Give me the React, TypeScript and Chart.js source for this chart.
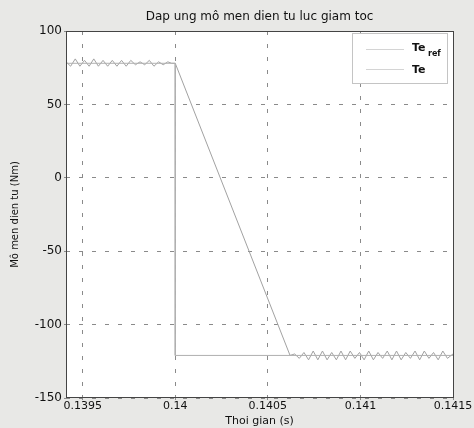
import React, { useEffect, useRef } from "react";
import { Chart, registerables } from "chart.js";
Chart.register(...registerables);

const chartTitle = "Dap ung mô men dien tu luc giam toc";
const xTitle = "Thoi gian (s)";
const yTitle = "Mô men dien tu (Nm)";
const xTicks = [0.1395, 0.14, 0.1405, 0.141, 0.1415];
const xTickLabels = ["0.1395", "0.14", "0.1405", "0.141", "0.1415"];
const yTicks = [-150, -100, -50, 0, 50, 100];

const teRefTime = [0.13941, 0.14, 0.14, 0.1415];
const teRefValue = [78, 78, -121, -121];

const teTime = [
  0.13941, 0.139435, 0.13946, 0.139485, 0.13951, 0.139535, 0.13956, 0.139585, 0.13961, 0.139635,
  0.13966, 0.139685, 0.13971, 0.139735, 0.13976, 0.139785, 0.13981, 0.139835, 0.13986, 0.139885,
  0.13991, 0.139935, 0.13996, 0.13998, 0.14,
  0.14062,
  0.140645, 0.14067, 0.140695, 0.14072, 0.140745, 0.14077, 0.140795, 0.14082, 0.140845, 0.14087,
  0.140895, 0.14092, 0.140945, 0.14097, 0.140995, 0.14102, 0.141045, 0.14107, 0.141095, 0.14112,
  0.141145, 0.14117, 0.141195, 0.14122, 0.141245, 0.14127, 0.141295, 0.14132, 0.141345, 0.14137,
  0.141395, 0.14142, 0.141445, 0.14147, 0.1415,
];
const teValue = [
  79, 76, 81, 76, 80, 76, 81, 76, 80, 76,
  80, 76, 80, 76, 80, 77, 79, 77, 80, 76,
  79, 77, 79, 78, 78,
  -121,
  -120, -123, -119, -124, -118, -124, -118, -124, -119, -124,
  -118, -124, -118, -123, -119, -124, -118, -124, -119, -123,
  -118, -124, -118, -124, -119, -123, -118, -124, -118, -123,
  -119, -124, -118, -123, -120,
];

const FONT = "'DejaVu Sans', sans-serif";
const GRID = "#8a8a8a";

const framePlugin = {
  id: "frame",
  beforeDraw(chart: any) {
    const { ctx, chartArea: a, width, height } = chart;
    ctx.save();
    ctx.fillStyle = "#e8e8e6";
    ctx.fillRect(0, 0, width, height);
    ctx.fillStyle = "#ffffff";
    ctx.fillRect(a.left, a.top, a.right - a.left, a.bottom - a.top);
    ctx.restore();
  },
  afterDraw(chart: any) {
    const { ctx, chartArea: a } = chart;
    ctx.save();
    ctx.strokeStyle = "#444";
    ctx.lineWidth = 1;
    ctx.strokeRect(a.left + 0.5, a.top + 0.5, a.right - a.left, a.bottom - a.top - 1);
    // title
    ctx.fillStyle = "#111";
    ctx.font = `12px ${FONT}`;
    ctx.textAlign = "center";
    ctx.textBaseline = "middle";
    ctx.fillText(chartTitle, (a.left + a.right) / 2, 17);
    // legend
    const lx = a.right - 101, ly = a.top + 2, lw = 95, lh = 50;
    ctx.fillStyle = "#fff";
    ctx.fillRect(lx, ly, lw, lh);
    ctx.strokeStyle = "#c4c4c4";
    ctx.strokeRect(lx + 0.5, ly + 0.5, lw, lh);
    ctx.strokeStyle = "#d4d4d4";
    ctx.beginPath();
    ctx.moveTo(lx + 14, ly + 16.5);
    ctx.lineTo(lx + 52, ly + 16.5);
    ctx.moveTo(lx + 14, ly + 36.5);
    ctx.lineTo(lx + 52, ly + 36.5);
    ctx.stroke();
    ctx.fillStyle = "#111";
    ctx.textAlign = "left";
    ctx.textBaseline = "alphabetic";
    ctx.font = `bold 11px ${FONT}`;
    ctx.fillText("Te", lx + 60, ly + 18);
    ctx.font = `bold 8px ${FONT}`;
    ctx.fillText("ref", lx + 76, ly + 23);
    ctx.font = `bold 11px ${FONT}`;
    ctx.fillText("Te", lx + 60, ly + 40);
    ctx.restore();
  },
};

export default function App() {
  const ref = useRef<HTMLCanvasElement>(null);
  useEffect(() => {
    const ctx = ref.current!;
    const chart = new Chart(ctx, {
      type: "line",
      data: {
        datasets: [
          {
            label: "Te_ref",
            data: teRefTime.map((t, i) => ({ x: t, y: teRefValue[i] })),
            borderColor: "#b0b0b0",
            borderWidth: 1,
            pointRadius: 0,
            tension: 0,
          },
          {
            label: "Te",
            data: teTime.map((t, i) => ({ x: t, y: teValue[i] })),
            borderColor: "#a2a2a2",
            borderWidth: 1,
            pointRadius: 0,
            tension: 0,
          },
        ],
      },
      options: {
        animation: false,
        responsive: false,
        layout: { padding: { top: 31, right: 21, left: 0, bottom: 0 } },
        plugins: { legend: { display: false }, title: { display: false }, tooltip: { enabled: false } },
        scales: {
          x: {
            type: "linear",
            min: 0.13941,
            max: 0.1415,
            afterBuildTicks: (s: any) => {
              s.ticks = xTicks.map((v) => ({ value: v }));
            },
            afterFit: (s: any) => {
              s.height = 30;
              s.paddingLeft = 0;
              s.paddingRight = 0;
            },
            ticks: {
              callback: (v: any) => {
                const i = xTicks.findIndex((t) => Math.abs(t - v) < 1e-9);
                return i >= 0 ? xTickLabels[i] : "";
              },
              color: "#111",
              font: { family: FONT, size: 11 },
              padding: 0,
              maxRotation: 0,
              autoSkip: false,
            },
            grid: { color: GRID, tickLength: 2 },
            border: { display: false, dash: [4, 9] },
            title: { display: true, text: xTitle, color: "#111", font: { family: FONT, size: 11 }, padding: 0 },
          },
          y: {
            min: -150,
            max: 100,
            afterBuildTicks: (s: any) => {
              s.ticks = yTicks.map((v) => ({ value: v }));
            },
            afterFit: (s: any) => {
              s.width = 66;
              s.paddingTop = 0;
              s.paddingBottom = 0;
            },
            ticks: { color: "#111", font: { family: FONT, size: 12 }, padding: 2 },
            grid: { color: GRID, tickLength: 2 },
            border: { display: false, dash: [4, 9] },
            title: { display: true, text: yTitle, color: "#111", font: { family: FONT, size: 10 }, padding: { top: 9, bottom: 0 } },
          },
        },
      },
      plugins: [framePlugin],
    } as any);
    return () => chart.destroy();
  }, []);
  return (
    <div style={{ position: "fixed", left: 0, top: 0, width: 474, height: 428 }}>
      <canvas ref={ref} width={474} height={428} />
    </div>
  );
}
